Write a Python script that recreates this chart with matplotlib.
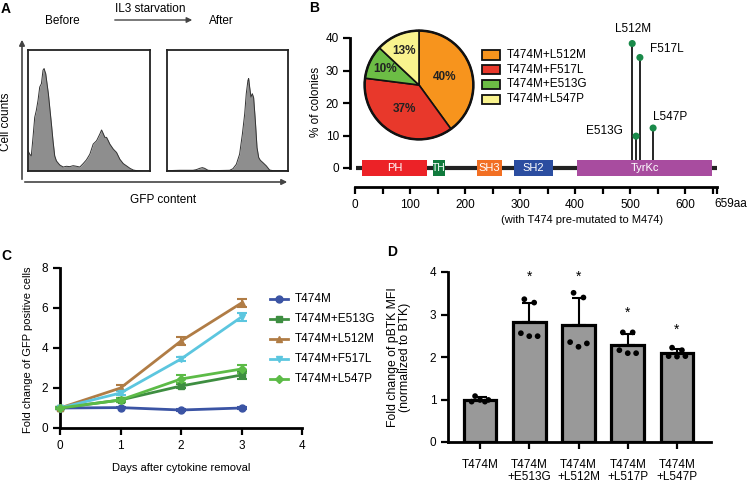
import matplotlib
matplotlib.use("Agg")
import matplotlib.pyplot as plt
from matplotlib.patches import Rectangle, FancyArrowPatch
from matplotlib.lines import Line2D
import numpy as np

plt.rcParams['font.family'] = ['Liberation Sans', 'DejaVu Sans']

# ---------------- data ----------------
# Panel A: flow histograms (GFP channel 0-100, relative counts 0-100)
before_x = [0, 1.4, 2.7, 4.1, 5.5, 6.8, 8.2, 9.6, 11, 12.3, 13.2, 14, 14.5, 15.6, 16.7, 17.8, 19.2,
            20.5, 21.9, 23.3, 26, 28.8, 31.5, 34.2, 37, 39.7, 42.5, 45.2, 47.9, 50.7, 53.4, 56.2,
            58.9, 60.3, 61.6, 63, 64.4, 65.8, 67.1, 69.9, 72.6, 75.3, 78.1, 80.8, 83.6, 86.3, 89,
            94.5, 100]
before_y = [16.7, 13.9, 12.5, 27.8, 44.4, 50, 58.3, 69.4, 72.2, 83.3, 84.7, 81.9, 80.6, 72.2, 63.9,
            52.8, 38.9, 25, 12.5, 8.3, 5, 3.3, 3.9, 3.6, 4.4, 3.9, 3.3, 6.1, 9.2, 13.9, 22.2, 25,
            30.6, 33.9, 31.1, 27.8, 27.8, 25, 22.2, 18.1, 15.3, 9.7, 6.1, 4.2, 2.2, 0.8, 0.3, 0, 0]
after_x = [0, 10.5, 21.5, 24.2, 27, 29.2, 31.1, 33.9, 38, 51.8, 54.5, 57.3, 60, 62.3, 64.2, 65.5,
           66.9, 67.5, 68.3, 69.4, 70.5, 71.6, 73, 74.4, 75.8, 77.1, 79.3, 82.1, 84.8, 87.6, 100]
after_y = [0.3, 0.6, 0.6, 1.1, 2.2, 2.8, 2.2, 0.6, 0.3, 0.6, 1.9, 5.6, 13.9, 30.6, 47.2, 63.9, 75,
           76.4, 69.4, 61.1, 63.9, 60.6, 41.7, 19.4, 11.1, 8.9, 6.9, 4.2, 0.8, 0.3, 0.3]

# Panel B
pie_labels = ['T474M+L512M', 'T474M+F517L', 'T474M+E513G', 'T474M+L547P']
pie_values = [40, 37, 10, 13]
pie_colors = ['#F7941D', '#E8382B', '#6CBD45', '#F9F38E']

domain_names = ['PH', 'TH', 'SH3', 'SH2', 'TyrKc']
domain_start = [13, 142, 222, 289, 404]
domain_end = [131, 164, 267, 360, 649]
domain_colors = ['#EC2227', '#107A3C', '#F26F23', '#2B4DA0', '#A84C9F']
protein_length = 659

mut_names = ['L512M', 'F517L', 'E513G', 'L547P']
mut_pos = [504, 518, 511, 542]       # positions as drawn on the diagram
mut_pct = [38.3, 34.0, 9.8, 12.3]

# Panel C
days = [0, 1, 2, 3]
c_names = ['T474M', 'T474M+E513G', 'T474M+L512M', 'T474M+F517L', 'T474M+L547P']
c_means = [[1.0, 1.02, 0.9, 1.0],
           [1.0, 1.4, 2.1, 2.65],
           [1.0, 2.0, 4.35, 6.25],
           [1.0, 1.75, 3.45, 5.55],
           [1.0, 1.4, 2.45, 2.95]]
c_err = [[0.03, 0.03, 0.05, 0.04],
         [0.05, 0.08, 0.12, 0.22],
         [0.05, 0.17, 0.2, 0.2],
         [0.05, 0.08, 0.1, 0.2],
         [0.05, 0.08, 0.22, 0.2]]
c_colors = ['#3B54A4', '#3E8E41', '#B07C45', '#5CC6DF', '#5CBB47']
c_markers = ['o', 's', '^', 'v', 'D']

# Panel D
d_cats = ['T474M', 'T474M\n+E513G', 'T474M\n+L512M', 'T474M\n+L517P', 'T474M\n+L547P']
d_means = [0.99, 2.83, 2.75, 2.28, 2.09]
d_sd = [0.06, 0.45, 0.65, 0.27, 0.11]
d_points = [[1.08, 0.95, 0.95, 0.99, 0.99],
            [3.36, 3.28, 2.56, 2.49, 2.49],
            [3.51, 3.40, 2.35, 2.24, 2.32],
            [2.58, 2.58, 2.16, 2.09, 2.09],
            [2.22, 2.16, 2.02, 2.01, 2.02]]
d_star = [None, 3.89, 3.89, 3.03, 2.64]

# ---------------- layout helpers ----------------
W, H = 750, 482
fig = plt.figure(figsize=(W / 100, H / 100), dpi=100)


def rect(x0, y0, x1, y1):
    return [x0 / W, 1 - y1 / H, (x1 - x0) / W, (y1 - y0) / H]


def ftxt(x, y, s, **kw):
    kw.setdefault('ha', 'center')
    kw.setdefault('va', 'center')
    return fig.text(x / W, 1 - y / H, s, **kw)


def farrow(x0, y0, x1, y1, **kw):
    a = FancyArrowPatch((x0 / W, 1 - y0 / H), (x1 / W, 1 - y1 / H),
                        transform=fig.transFigure, **kw)
    fig.add_artist(a)


FS = 8.5

# ---------------- Panel A ----------------
ftxt(6, 9, 'A', fontsize=10, fontweight='bold')
ftxt(62, 21, 'Before', fontsize=FS)
ftxt(150, 9, 'IL3 starvation', fontsize=FS)
ftxt(221, 21, 'After', fontsize=FS)
farrow(112, 20, 195, 20, arrowstyle='-|>', mutation_scale=8, lw=1.0, color='#444444')
farrow(22, 182, 22, 37, arrowstyle='-|>', mutation_scale=8, lw=1.2, color='#444444')
farrow(22, 182, 290, 182, arrowstyle='-|>', mutation_scale=8, lw=1.2, color='#444444')
ftxt(6, 122, 'Cell counts', fontsize=FS, rotation=90)
ftxt(163, 200, 'GFP content', fontsize=FS)

for (x0, x1), hx, hy in [((28, 150), before_x, before_y), ((167, 288), after_x, after_y)]:
    ax = fig.add_axes(rect(x0, 50, x1, 171))
    ax.fill_between(hx, 0, hy, color='#8E8E8E', lw=0)
    ax.plot(hx, hy, color='#333333', lw=0.7)
    ax.set_xlim(0, 100)
    ax.set_ylim(0, 100)
    ax.set_xticks([])
    ax.set_yticks([])
    for sp in ax.spines.values():
        sp.set_linewidth(1.3)
        sp.set_color('#222222')

# ---------------- Panel B ----------------
ftxt(314, 8, 'B', fontsize=10, fontweight='bold')
px_per_aa = 0.55
x0_px = 355
y0_px = 168
px_per_pct = 3.25


def aa(px):
    return (px - x0_px) / px_per_aa


def pct(py):
    return (y0_px - py) / px_per_pct


axb = fig.add_axes(rect(350, 36, 722, 178))
axb.set_xlim(aa(350), aa(722))
axb.set_ylim(pct(178), pct(36))
axb.plot([1, protein_length], [0, 0], color='#222222', lw=3, solid_capstyle='butt', zorder=1)
axb.vlines(mut_pos, 0, mut_pct, color='black', lw=1.2, zorder=2)
for n, s, e, c in zip(domain_names, domain_start, domain_end, domain_colors):
    axb.add_patch(Rectangle((s, -2.6), e - s, 5.2, facecolor=c, edgecolor='none', zorder=3))
    axb.text((s + e) / 2, 0, n, color='white', fontsize=7.5 if n == 'TH' else 8,
             ha='center', va='center', zorder=4)
axb.scatter(mut_pos, mut_pct, s=26, color='#1A8A4A', zorder=5, edgecolors='none')
offsets = {'L512M': (1, 15, 'center'), 'F517L': (10, 8, 'left'),
           'E513G': (-13, 5, 'right'), 'L547P': (0, 11, 'left')}
for n, p, v in zip(mut_names, mut_pos, mut_pct):
    dx, dy, ha = offsets[n]
    axb.annotate(n, (p, v), xytext=(dx, dy), textcoords='offset pixels',
                 ha=ha, va='center', fontsize=FS)
axb.set_yticks([0, 10, 20, 30, 40])
axb.tick_params(axis='y', length=5, width=1.6, labelsize=FS, pad=3)
axb.spines['left'].set_bounds(0, 40)
axb.spines['left'].set_linewidth(2)
for s in ['top', 'right', 'bottom']:
    axb.spines[s].set_visible(False)
axb.set_xticks([])
axb.patch.set_alpha(0)
ftxt(316, 102, '% of colonies', fontsize=FS, rotation=90)

# scale axis
axs = fig.add_axes(rect(350, 180, 722, 187))
axs.set_xlim(aa(350), aa(722))
axs.set_ylim(0, 1)
for s in ['top', 'right', 'left']:
    axs.spines[s].set_visible(False)
axs.spines['bottom'].set_bounds(0, protein_length)
axs.spines['bottom'].set_linewidth(2)
axs.set_yticks([])
major = [0, 100, 200, 300, 400, 500, 600]
axs.set_xticks(major + [protein_length])
axs.set_xticklabels([str(m) for m in major] + [''])
axs.set_xticks(list(range(50, 700, 100)), minor=True)
axs.tick_params(axis='x', which='both', length=5, width=1.6, labelsize=FS, pad=4)
axs.patch.set_alpha(0)
ftxt(714, 204, f'{protein_length}aa', fontsize=FS, ha='left')
ftxt(582, 220, '(with T474 pre-mutated to M474)', fontsize=8)

# pie
axp = fig.add_axes(rect(363, 29, 475, 141))
wedges, _ = axp.pie(pie_values, colors=pie_colors, startangle=90, counterclock=False,
                    wedgeprops=dict(edgecolor='#111111', linewidth=1.2), radius=1)
axp.set_xlim(-1.03, 1.03)
axp.set_ylim(-1.03, 1.03)
axp.set_aspect('equal')
circ = plt.Circle((0, 0), 1, fill=False, lw=1.8, color='#111111')
axp.add_patch(circ)
label_r = [0.5, 0.52, 0.7, 0.68]
for w, v, r in zip(wedges, pie_values, label_r):
    th = np.deg2rad((w.theta1 + w.theta2) / 2)
    axp.text(r * np.cos(th), r * np.sin(th), f'{v}%', ha='center', va='center',
             fontsize=FS, fontweight='bold', color='#222222')

for i, (lab, col) in enumerate(zip(pie_labels, pie_colors)):
    y = 55 + i * 14.7
    fig.add_artist(Rectangle((482 / W, 1 - (y + 4.5) / H), 18 / W, 9 / H, transform=fig.transFigure,
                             facecolor=col, edgecolor='#111111', lw=1.3))
    ftxt(507, y, lab, fontsize=FS, ha='left')

# ---------------- Panel C ----------------
ftxt(6, 256, 'C', fontsize=10, fontweight='bold')
axc = fig.add_axes(rect(60, 268, 302, 428))
for n, m, e, c, mk in zip(c_names, c_means, c_err, c_colors, c_markers):
    ms = 4 if mk == 'D' else 5
    axc.errorbar(days, m, yerr=e, color=c, marker=mk, ms=ms, lw=2, capsize=3.5,
                 elinewidth=1.5, capthick=1.5, clip_on=False, zorder=3)
axc.set_xlim(0, 4)
axc.set_ylim(0, 8)
axc.set_xticks([0, 1, 2, 3, 4])
axc.set_yticks([0, 2, 4, 6, 8])
for s in ['top', 'right']:
    axc.spines[s].set_visible(False)
for s in ['left', 'bottom']:
    axc.spines[s].set_linewidth(2)
axc.tick_params(length=5, width=1.6, labelsize=FS)
axc.patch.set_alpha(0)
ftxt(28, 350, 'Fold change of GFP positive cells', fontsize=8, rotation=90)
ftxt(181, 468, 'Days after cytokine removal', fontsize=8)
for i, (n, c, mk) in enumerate(zip(c_names, c_colors, c_markers)):
    y = 299 + i * 20
    fig.add_artist(Line2D([270 / W, 288 / W], [1 - y / H, 1 - y / H], transform=fig.transFigure,
                          color=c, lw=2))
    fig.add_artist(Line2D([279 / W], [1 - y / H], transform=fig.transFigure,
                          color=c, marker=mk, markersize=4 if mk == 'D' else 5, lw=0))
    ftxt(295, y, n, fontsize=FS, ha='left')

# ---------------- Panel D ----------------
ftxt(392, 252, 'D', fontsize=10, fontweight='bold')
px_per_cat = 49.25
cx0 = 480


def cat(px):
    return (px - cx0) / px_per_cat


axd = fig.add_axes(rect(448, 272, 711, 442))
xs = np.arange(len(d_cats))
axd.bar(xs, d_means, width=0.66, color='#999999', edgecolor='black', lw=2.3, zorder=2)
axd.errorbar(xs, d_means, yerr=[np.zeros(len(d_sd)), d_sd], fmt='none', ecolor='black',
             elinewidth=1.5, capsize=5, capthick=1.5, zorder=3)
jit = [-0.1, 0.1, -0.17, 0.0, 0.17]
for i, pts in enumerate(d_points):
    axd.scatter(xs[i] + np.array(jit[:len(pts)]), pts, s=17, color='black', zorder=4,
                edgecolors='none')
for i, st in enumerate(d_star):
    if st is not None:
        axd.text(xs[i], st, '*', ha='center', va='center', fontsize=10)
axd.set_xlim(cat(448), cat(711))
axd.set_ylim(0, 4)
axd.set_yticks([0, 1, 2, 3, 4])
axd.set_xticks(xs)
axd.set_xticklabels(d_cats, fontsize=FS, linespacing=1.05)
for s in ['top', 'right']:
    axd.spines[s].set_visible(False)
for s in ['left', 'bottom']:
    axd.spines[s].set_linewidth(2)
axd.tick_params(length=5, width=1.6, labelsize=FS)
axd.tick_params(axis='x', pad=7)
axd.patch.set_alpha(0)
ftxt(399, 357, 'Fold change of pBTK MFI\n(normalized to BTK)', fontsize=8.8, rotation=90,
     multialignment='center', linespacing=1.1)

fig.savefig('out.png', dpi=100)
